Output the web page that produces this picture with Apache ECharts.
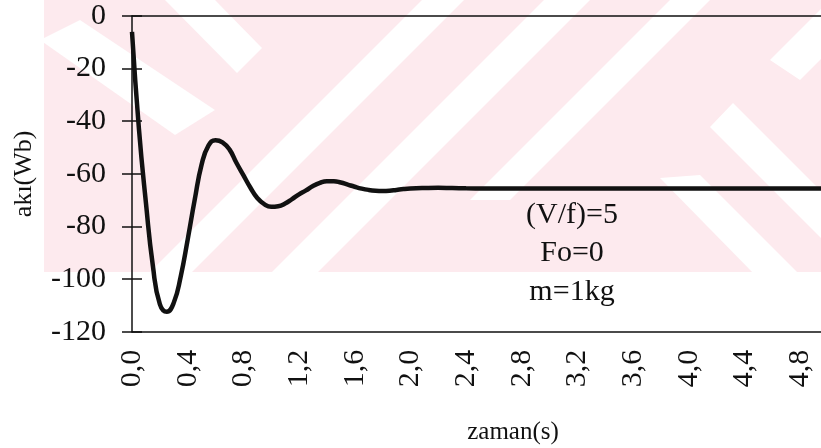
<!DOCTYPE html>
<html>
<head>
<meta charset="utf-8">
<script src="https://cdn.jsdelivr.net/npm/echarts@6/dist/echarts.min.js"></script>
<style>
  html, body { margin: 0; padding: 0; background: #fff; }
  #chart { width: 821px; height: 448px; }
</style>
</head>
<body>
<div id="chart"></div>
<script>
// Flux response over time: sample times (s) and flux values (Wb)
const timeS = [
  0.00, 0.05, 0.10, 0.15, 0.20, 0.25, 0.30, 0.35, 0.40, 0.45,
  0.50, 0.55, 0.60, 0.65, 0.70, 0.75, 0.80, 0.85, 0.90, 0.95,
  1.00, 1.05, 1.10, 1.15, 1.20, 1.25, 1.30, 1.35, 1.40, 1.45,
  1.50, 1.55, 1.60, 1.65, 1.70, 1.75, 1.80, 1.85, 1.90, 1.95,
  2.00, 2.10, 2.20, 2.30, 2.40, 2.60, 2.80, 3.20, 3.60, 4.00,
  4.40, 4.80, 4.95
];
const fluxWb = [
  -6, -43, -71, -95, -109.5, -112.4, -109, -99, -85, -70,
  -56.5, -49.2, -47.2, -48, -50.7, -55.8, -60.5, -65.2, -69.2, -71.5,
  -72.5, -72.3, -71.3, -69.6, -67.8, -66.3, -64.6, -63.4, -62.8, -62.8,
  -63.3, -64.1, -64.9, -65.6, -66.1, -66.4, -66.5, -66.4, -66.1, -65.8,
  -65.6, -65.4, -65.3, -65.4, -65.5, -65.6, -65.6, -65.6, -65.6, -65.6,
  -65.6, -65.6, -65.6
];

// Axis ranges and tick spacing
const xMin = 0, xMax = 4.95, xStep = 0.4;
const yMin = -120, yMax = 0, yStep = 20;

// Parameter notes shown inside the plot
const noteLines = ['(V/f)=5', 'Fo=0', 'm=1kg'];

const FONT = '"Liberation Serif", "Times New Roman", serif';
const INK = '#111';

const chart = echarts.init(document.getElementById('chart'), null, { renderer: 'canvas' });

// Faint pink diagonal-band background motif
const PINK = '#fdeaee';
const bg = [
  { type: 'rect', shape: { x: 44, y: 0, width: 777, height: 272 }, style: { fill: PINK } },
  // white bands "/"
  { type: 'polygon', shape: { points: [[150, 272], [192, 272], [464, 0], [422, 0]] }, style: { fill: '#fff' } },
  { type: 'polygon', shape: { points: [[272, 272], [318, 272], [590, 0], [544, 0]] }, style: { fill: '#fff' } },
  { type: 'polygon', shape: { points: [[470, 200], [510, 200], [735, -25], [695, -25]] }, style: { fill: '#fff' } },
  { type: 'polygon', shape: { points: [[770, 60], [800, 80], [880, 0], [840, -10]] }, style: { fill: '#fff' } },
  // white bands "\"
  { type: 'polygon', shape: { points: [[165, 0], [215, 0], [262, 48], [237, 73]] }, style: { fill: '#fff' } },
  { type: 'polygon', shape: { points: [[40, 40], [80, 20], [215, 110], [175, 135]] }, style: { fill: '#fff' } },
  { type: 'polygon', shape: { points: [[710, 127], [733, 103], [900, 270], [877, 294]] }, style: { fill: '#fff' } },
  { type: 'polygon', shape: { points: [[660, 178], [700, 175], [800, 275], [755, 275]] }, style: { fill: '#fff' } }
].map(function (g) { g.z = -10; g.silent = true; return g; });

const notes = noteLines.map(function (t, i) {
  return {
    type: 'text', z: 5,
    x: 572, y: 215 + i * 38.5,
    style: { text: t, fill: INK, font: '30px ' + FONT, textAlign: 'center', textVerticalAlign: 'middle' }
  };
});

const fmtComma = function (v) { return v.toFixed(1).replace('.', ','); };

chart.setOption({
  animation: false,
  backgroundColor: '#fff',
  grid: { left: 132, right: 0, top: 16, bottom: 116.3, containLabel: false },
  graphic: bg.concat(notes).concat([
    {
      type: 'text', z: 5, x: 513, y: 432,
      style: { text: 'zaman(s)', fill: INK, font: '25px ' + FONT, textAlign: 'center', textVerticalAlign: 'middle' }
    }
  ]),
  xAxis: [
    {
      type: 'value', min: xMin, max: xMax, interval: xStep,
      axisLine: { show: true, onZero: false, lineStyle: { color: INK, width: 1.5 } },
      axisTick: { show: false },
      splitLine: { show: false },
      axisLabel: {
        rotate: 90, margin: 18, color: INK, fontFamily: FONT, fontSize: 30,
        showMaxLabel: false, formatter: fmtComma
      }
    },
    {
      type: 'value', position: 'top', min: xMin, max: xMax, interval: xStep,
      axisLine: { show: true, onZero: false, lineStyle: { color: INK, width: 1.5 } },
      axisTick: { show: false }, axisLabel: { show: false }, splitLine: { show: false }
    }
  ],
  yAxis: [
    {
      type: 'value', min: yMin, max: yMax, interval: yStep,
      name: 'akı(Wb)', nameLocation: 'middle', nameRotate: 90, nameGap: 95,
      nameTextStyle: { color: INK, fontFamily: FONT, fontSize: 26 },
      axisLine: { show: true, onZero: false, lineStyle: { color: INK, width: 1.5 } },
      axisTick: { show: true, inside: false, length: 10, lineStyle: { color: INK, width: 1.5 } },
      splitLine: { show: false },
      axisLabel: { margin: 26, color: INK, fontFamily: FONT, fontSize: 30 }
    },
    {
      type: 'value', min: yMin, max: yMax, interval: yStep, position: 'left',
      axisLine: { show: false },
      axisTick: { show: true, inside: true, length: 10, lineStyle: { color: INK, width: 1.5 } },
      axisLabel: { show: false }, splitLine: { show: false }
    }
  ],
  series: [
    {
      type: 'line',
      xAxisIndex: 0, yAxisIndex: 0,
      data: timeS.map(function (t, i) { return [t, fluxWb[i]]; }),
      smooth: true,
      showSymbol: false,
      lineStyle: { color: INK, width: 4.5 },
      z: 3
    }
  ]
});
</script>
</body>
</html>
